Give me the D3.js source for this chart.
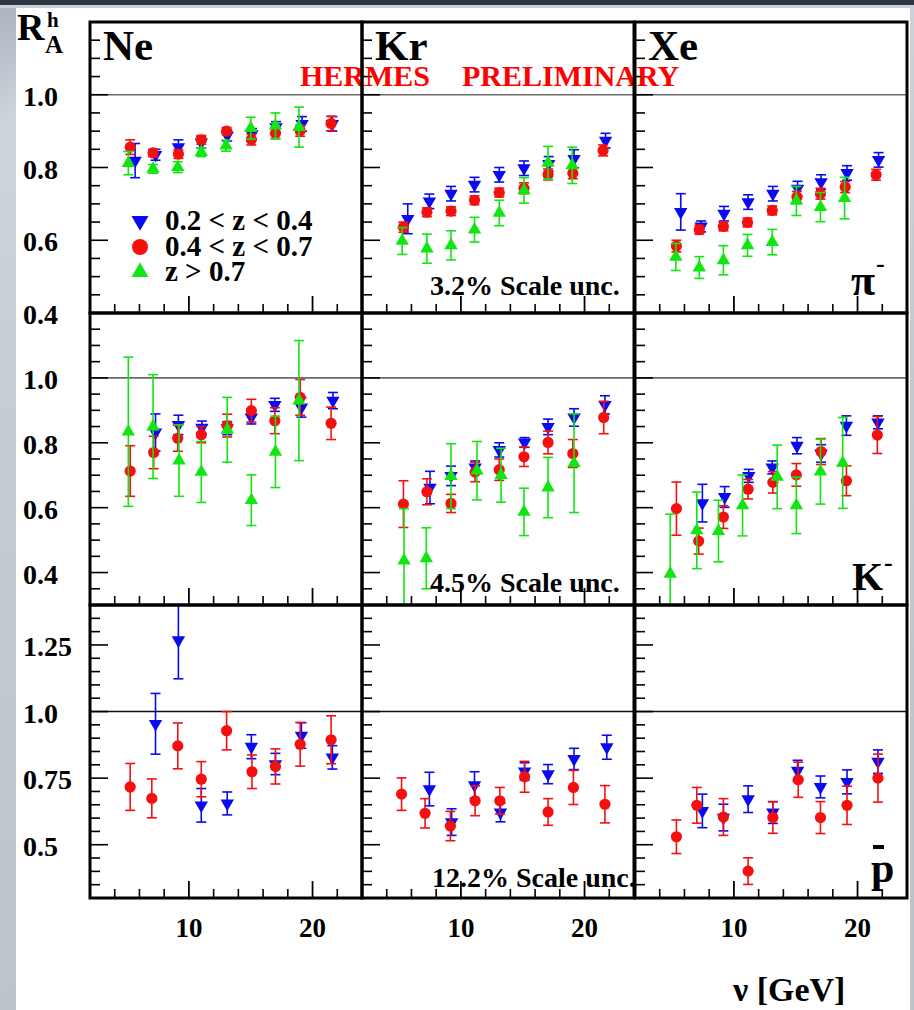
<!DOCTYPE html>
<html><head><meta charset="utf-8">
<script src="https://cdn.jsdelivr.net/npm/d3@7"></script>
<style>
html,body{margin:0;padding:0;background:#c3cad2;overflow:hidden;}
svg{display:block;}
text{font-family:"Liberation Serif","Times New Roman",serif;font-weight:bold;}
</style></head><body>
<svg id="c" width="914" height="1010"></svg>
<script>
// ---------------- DATA ----------------
const targets = ["Ne", "Kr", "Xe"];
const zBins = ["0.2 < z < 0.4", "0.4 < z < 0.7", "z > 0.7"];
const scaleUnc = ["3.2% Scale unc.", "4.5% Scale unc.", "12.2% Scale unc."];
const nuDomain = [2, 24];
const nuMajor = [10, 20];
const nuLabels = ["10", "20"];
const nuMinor = [4, 6, 8, 12, 14, 16, 18, 22];
const rowDomains = [[0.4, 1.2], [0.3, 1.2], [0.3, 1.4]];
const rowMajor = [[0.4, 0.6, 0.8, 1.0, 1.2], [0.4, 0.6, 0.8, 1.0], [0.5, 0.75, 1.0, 1.25]];
const rowLabels = [["0.4", "0.6", "0.8", "1.0", ""], ["0.4", "0.6", "0.8", "1.0"], ["0.5", "0.75", "1.0", "1.25"]];

// each entry: [nu (GeV), R_A^h, stat. error]
// pi-
const piNeLow  = [[5.65,0.819,0.047],[7.3,0.835,0.015],[9.15,0.856,0.02],[11.0,0.869,0.015],[13.1,0.888,0.015],[15.1,0.892,0.015],[17.05,0.911,0.015],[19.15,0.92,0.02],[21.6,0.92,0.02]];
const piNeMid  = [[5.25,0.856,0.02],[7.1,0.84,0.01],[9.15,0.837,0.012],[11.0,0.876,0.012],[13.05,0.9,0.01],[15.05,0.877,0.015],[17.0,0.894,0.015],[19.0,0.901,0.015],[21.5,0.921,0.02]];
const piNeHigh = [[5.1,0.812,0.032],[7.1,0.796,0.012],[9.1,0.801,0.015],[11.0,0.842,0.012],[13.0,0.86,0.015],[15.0,0.908,0.03],[17.0,0.915,0.035],[18.9,0.911,0.055]];
const piKrLow  = [[5.7,0.659,0.041],[7.45,0.707,0.02],[9.2,0.728,0.02],[11.1,0.753,0.02],[13.1,0.78,0.02],[15.1,0.798,0.02],[17.1,0.81,0.02],[19.15,0.824,0.025],[21.7,0.874,0.02]];
const piKrMid  = [[5.35,0.636,0.014],[7.25,0.677,0.012],[9.2,0.68,0.012],[11.1,0.71,0.012],[13.1,0.731,0.012],[15.1,0.743,0.015],[17.05,0.781,0.015],[19.05,0.784,0.015],[21.5,0.847,0.015]];
const piKrHigh = [[5.25,0.598,0.037],[7.25,0.577,0.04],[9.2,0.586,0.04],[11.1,0.629,0.034],[13.1,0.675,0.035],[15.1,0.737,0.035],[17.05,0.813,0.045],[19.0,0.806,0.05]];
const piXeLow  = [[5.7,0.678,0.05],[7.35,0.638,0.015],[9.2,0.673,0.02],[11.15,0.705,0.02],[13.15,0.728,0.02],[15.15,0.742,0.02],[17.05,0.76,0.02],[19.15,0.785,0.02],[21.7,0.821,0.02]];
const piXeMid  = [[5.35,0.584,0.016],[7.2,0.629,0.012],[9.15,0.638,0.012],[11.1,0.649,0.012],[13.1,0.682,0.012],[15.1,0.719,0.015],[17.0,0.728,0.015],[19.0,0.746,0.015],[21.5,0.78,0.015]];
const piXeHigh = [[5.3,0.554,0.037],[7.2,0.525,0.03],[9.15,0.545,0.04],[11.1,0.586,0.03],[13.1,0.595,0.035],[15.05,0.708,0.04],[17.0,0.691,0.04],[18.95,0.716,0.057]];
// K-
const kNeLow  = [[7.3,0.832,0.057],[9.15,0.855,0.03],[11.05,0.847,0.02],[13.1,0.845,0.02],[15.05,0.878,0.02],[16.95,0.917,0.02],[19.1,0.909,0.03],[21.65,0.93,0.025]];
const kNeMid  = [[5.25,0.713,0.078],[7.15,0.77,0.05],[9.1,0.814,0.04],[11.0,0.825,0.025],[13.1,0.853,0.035],[15.05,0.899,0.035],[16.95,0.868,0.04],[19.0,0.94,0.055],[21.5,0.86,0.05]];
const kNeHigh = [[5.1,0.834,0.23],[7.1,0.85,0.16],[9.2,0.745,0.11],[11.0,0.71,0.094],[13.1,0.84,0.1],[15.05,0.623,0.078],[17.0,0.772,0.11],[18.9,0.93,0.185]];
const kKrLow  = [[7.5,0.662,0.05],[9.2,0.698,0.03],[11.15,0.724,0.02],[13.1,0.778,0.022],[15.15,0.801,0.015],[17.05,0.849,0.024],[19.15,0.878,0.027],[21.65,0.917,0.028]];
const kKrMid  = [[5.35,0.611,0.072],[7.25,0.649,0.04],[9.2,0.613,0.028],[11.15,0.71,0.03],[13.1,0.717,0.033],[15.1,0.757,0.03],[17.05,0.801,0.035],[19.05,0.767,0.043],[21.55,0.878,0.05]];
const kKrHigh = [[5.4,0.437,0.16],[7.2,0.444,0.094],[9.2,0.697,0.1],[11.3,0.714,0.09],[13.25,0.70,0.083],[15.1,0.587,0.073],[17.05,0.662,0.093],[19.15,0.737,0.152]];
const kXeLow  = [[7.45,0.614,0.058],[9.25,0.633,0.032],[11.2,0.698,0.02],[13.1,0.724,0.02],[15.1,0.791,0.025],[17.05,0.767,0.027],[19.1,0.853,0.03],[21.65,0.863,0.02]];
const kXeMid  = [[5.35,0.597,0.082],[7.15,0.497,0.04],[9.15,0.571,0.035],[11.15,0.657,0.03],[13.15,0.678,0.033],[15.05,0.701,0.035],[17.05,0.773,0.04],[19.1,0.683,0.046],[21.6,0.824,0.057]];
const kXeHigh = [[4.85,0.396,0.184],[7.0,0.53,0.118],[8.75,0.528,0.095],[10.7,0.607,0.094],[13.5,0.695,0.098],[15.05,0.607,0.087],[17.0,0.711,0.1],[18.8,0.738,0.14]];
// anti-proton
const pNeLow = [[7.3,0.954,0.114],[9.15,1.268,0.145],[11.0,0.648,0.063],[13.1,0.655,0.043],[15.05,0.868,0.045],[17.0,0.803,0.04],[19.1,0.91,0.048],[21.6,0.828,0.044]];
const pNeMid = [[5.25,0.717,0.088],[7.0,0.674,0.073],[9.1,0.871,0.086],[11.0,0.746,0.066],[13.05,0.928,0.072],[15.1,0.774,0.063],[17.0,0.794,0.066],[19.0,0.877,0.082],[21.5,0.894,0.09]];
const pKrLow = [[7.45,0.709,0.063],[9.25,0.585,0.05],[11.1,0.724,0.05],[13.2,0.621,0.035],[15.15,0.775,0.033],[17.05,0.765,0.036],[19.15,0.822,0.04],[21.8,0.866,0.045]];
const pKrMid = [[5.2,0.69,0.061],[7.1,0.618,0.055],[9.15,0.57,0.055],[11.15,0.665,0.056],[13.15,0.665,0.05],[15.15,0.755,0.058],[17.05,0.623,0.05],[19.1,0.715,0.064],[21.65,0.652,0.07]];
const pXeLow = [[7.45,0.627,0.063],[9.15,0.602,0.05],[11.15,0.671,0.05],[13.15,0.621,0.041],[15.15,0.778,0.039],[17.0,0.717,0.041],[19.15,0.736,0.045],[21.65,0.812,0.044]];
const pXeMid = [[5.35,0.53,0.063],[7.0,0.648,0.067],[9.15,0.604,0.069],[11.15,0.401,0.05],[13.15,0.602,0.059],[15.2,0.744,0.066],[17.0,0.602,0.06],[19.15,0.648,0.072],[21.65,0.75,0.09]];

// panel table built from the arrays: rows = hadron, cols = target; series order low, mid, high
const panelData = [
  [[piNeLow, piNeMid, piNeHigh], [piKrLow, piKrMid, piKrHigh], [piXeLow, piXeMid, piXeHigh]],
  [[kNeLow, kNeMid, kNeHigh], [kKrLow, kKrMid, kKrHigh], [kXeLow, kXeMid, kXeHigh]],
  [[pNeLow, pNeMid, null], [pKrLow, pKrMid, null], [pXeLow, pXeMid, null]]
];

// ---------------- LAYOUT / STYLE ----------------
const W = 914, H = 1010;
const colX = [90, 362, 635], colW = 272;
const rowTop = [22, 313, 605], rowBot = [313, 605, 898];
const colors = ["#0a0af0", "#f51010", "#12e612"];
const SERIF = '"Liberation Serif","Times New Roman",serif';

const svg = d3.select("#c");
const defs = svg.append("defs");
const lg = defs.append("linearGradient").attr("id", "bg").attr("x1", 0).attr("y1", 0).attr("x2", 0.2).attr("y2", 1);
lg.append("stop").attr("offset", 0).attr("stop-color", "#a9b3be");
lg.append("stop").attr("offset", 0.12).attr("stop-color", "#cfd5dc");
lg.append("stop").attr("offset", 0.35).attr("stop-color", "#c6cdd5");
lg.append("stop").attr("offset", 1).attr("stop-color", "#bcc3cb");
svg.append("rect").attr("width", W).attr("height", H).attr("fill", "url(#bg)");
svg.append("rect").attr("width", W).attr("height", 5).attr("fill", "#2c3743");
svg.append("rect").attr("y", 5).attr("width", W).attr("height", 3).attr("fill", "#c9d0d7");
svg.append("rect").attr("x", 16).attr("y", 8).attr("width", 894).attr("height", H - 8).attr("fill", "#ffffff");

const triUp = d3.symbol().type(d3.symbolTriangle).size(78);
const triUpL = d3.symbol().type(d3.symbolTriangle).size(125);

function drawSeries(g, data, si, x, y) {
  const col = colors[si];
  const pts = g.append("g").selectAll("g").data(data).join("g");
  pts.append("line")
    .attr("x1", d => x(d[0])).attr("x2", d => x(d[0]))
    .attr("y1", d => y(d[1] - d[2])).attr("y2", d => y(d[1] + d[2]))
    .attr("stroke", col).attr("stroke-width", 1.6);
  [-1, 1].forEach(s => {
    pts.append("line")
      .attr("x1", d => x(d[0]) - 5).attr("x2", d => x(d[0]) + 5)
      .attr("y1", d => y(d[1] + s * d[2])).attr("y2", d => y(d[1] + s * d[2]))
      .attr("stroke", col).attr("stroke-width", 1.6);
  });
  if (si === 1) {
    pts.append("circle").attr("cx", d => x(d[0])).attr("cy", d => y(d[1])).attr("r", 5.6).attr("fill", col);
  } else {
    pts.append("path").attr("d", triUp)
      .attr("transform", d => `translate(${x(d[0])},${y(d[1])})` + (si === 0 ? " rotate(180)" : ""))
      .attr("fill", col);
  }
}

function txt(x, yy, s, size, opts = {}) {
  return svg.append("text").attr("x", x).attr("y", yy).text(s)
    .attr("font-size", size).attr("font-family", SERIF)
    .attr("font-weight", opts.weight || "bold")
    .attr("fill", opts.fill || "#000")
    .attr("text-anchor", opts.anchor || "start");
}

for (let r = 0; r < 3; r++) {
  const y = d3.scaleLinear().domain(rowDomains[r]).range([rowBot[r], rowTop[r]]);
  const minor = d3.range(Math.round(rowDomains[r][0] * 20), Math.round(rowDomains[r][1] * 20) + 1).map(i => i / 20);
  for (let c = 0; c < 3; c++) {
    const x = d3.scaleLinear().domain(nuDomain).range([colX[c], colX[c] + colW]);
    const g = svg.append("g");
    const cid = `clip${r}${c}`;
    defs.append("clipPath").attr("id", cid).append("rect")
      .attr("x", colX[c]).attr("y", rowTop[r]).attr("width", colW).attr("height", rowBot[r] - rowTop[r]);
    g.append("line").attr("x1", colX[c]).attr("x2", colX[c] + colW)
      .attr("y1", y(1.0)).attr("y2", y(1.0))
      .attr("stroke", r === 2 ? "#111" : "#6a6a6a").attr("stroke-width", 1.6);
    g.append("g").selectAll("line").data(minor).join("line")
      .attr("x1", colX[c]).attr("x2", d => colX[c] + (rowMajor[r].some(m => Math.abs(m - d) < 1e-6) ? 18 : 10))
      .attr("y1", d => y(d)).attr("y2", d => y(d))
      .attr("stroke", "#000").attr("stroke-width", 1.6);
    g.append("g").selectAll("line").data(nuMinor).join("line")
      .attr("x1", d => x(d)).attr("x2", d => x(d))
      .attr("y1", rowBot[r]).attr("y2", rowBot[r] - 9)
      .attr("stroke", "#000").attr("stroke-width", 1.6);
    g.append("g").selectAll("line").data(nuMajor).join("line")
      .attr("x1", d => x(d)).attr("x2", d => x(d))
      .attr("y1", rowBot[r]).attr("y2", rowBot[r] - 17)
      .attr("stroke", "#000").attr("stroke-width", 1.8);
    const dg = g.append("g").attr("clip-path", `url(#${cid})`);
    const series = panelData[r][c];
    [0, 1, 2].forEach(si => { if (series[si]) drawSeries(dg, series[si], si, x, y); });
    if (r === 2) {
      nuMajor.forEach((v, i) => txt(x(v), 937, nuLabels[i], 27, { anchor: "middle" }));
    }
  }
  rowMajor[r].forEach((v, i) => {
    if (rowLabels[r][i]) txt(23, y(v) + 11, rowLabels[r][i], 28);
  });
}

// panel titles
targets.forEach((t, c) => txt(colX[c] + 13, 60, t, 43));
// HERMES PRELIMINARY
txt(300, 86, "HERMES", 30, { fill: "#ff0000" });
txt(462, 86, "PRELIMINARY", 30, { fill: "#ff0000" });
// scale uncertainties
txt(430, 295, scaleUnc[0], 28);
txt(430, 592, scaleUnc[1], 28);
txt(432, 887, scaleUnc[2], 28);
// legend
const legY = [221, 247, 272];
zBins.forEach((s, i) => {
  if (i === 1) svg.append("circle").attr("cx", 140).attr("cy", legY[i]).attr("r", 8).attr("fill", colors[1]);
  else svg.append("path").attr("d", triUpL).attr("transform", `translate(140,${legY[i]})` + (i === 0 ? " rotate(180)" : "")).attr("fill", colors[i]);
  txt(165, legY[i] + 9, s, 29);
});
// hadron labels
txt(851, 295, "π", 44, { weight: "normal" });
txt(876, 272, "-", 26);
txt(852, 590, "K", 40);
txt(884, 571, "-", 26);
txt(871, 882, "p", 42);
svg.append("rect").attr("x", 873).attr("y", 845).attr("width", 11).attr("height", 4).attr("fill", "#000");
// axis titles
txt(17, 40, "R", 38);
txt(47, 27, "h", 21);
txt(45, 53, "A", 25);
txt(733, 1001, "ν [GeV]", 34);

// frames on top
for (let r = 0; r < 3; r++) for (let c = 0; c < 3; c++) {
  svg.append("rect").attr("x", colX[c]).attr("y", rowTop[r]).attr("width", colW).attr("height", rowBot[r] - rowTop[r])
    .attr("fill", "none").attr("stroke", "#000").attr("stroke-width", 3);
}
</script>
</body></html>
